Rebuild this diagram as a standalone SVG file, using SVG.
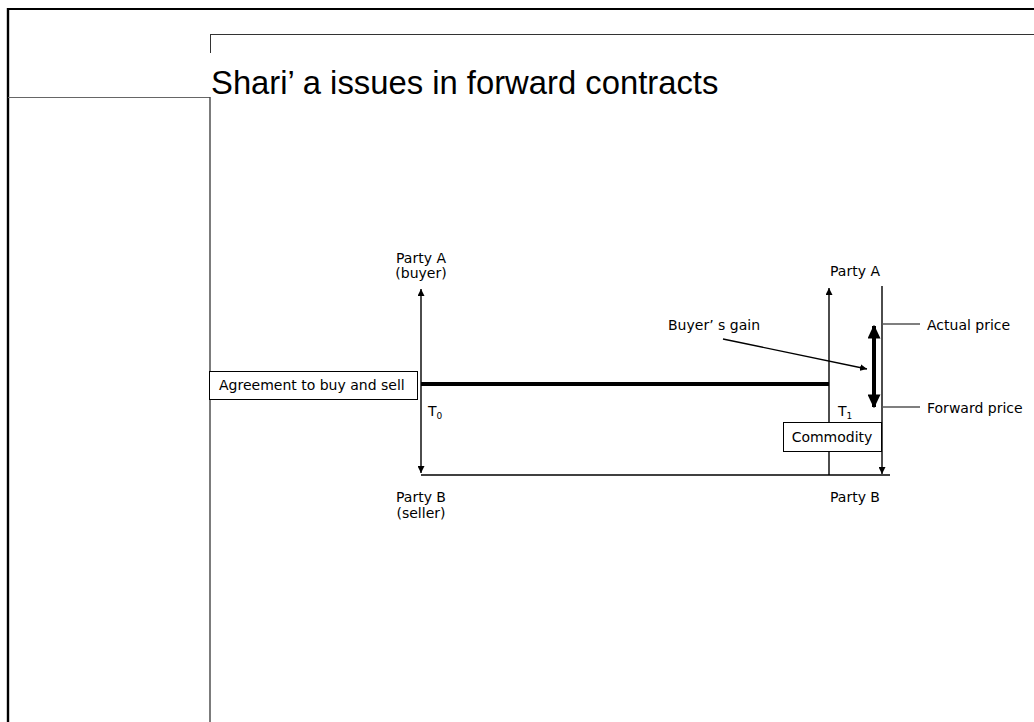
<svg xmlns="http://www.w3.org/2000/svg" width="1034" height="722" viewBox="0 0 1034 722">
  <style>
    .lbl { font-family: "DejaVu Sans", Verdana, sans-serif; font-size: 14px; fill: #000; }
    .mid { text-anchor: middle; }
    .title { font-family: "Liberation Sans", Arial, sans-serif; font-size: 32.8px; fill: #000; }
    .thin { stroke: #000; stroke-width: 1.4; fill: none; }
    .thick { stroke: #000; stroke-width: 4; fill: none; }
    .tick { stroke: #555; stroke-width: 1.3; fill: none; }
    .box { fill: #fff; stroke: #000; stroke-width: 1; }
  </style>
  <defs>
    <marker id="ah" viewBox="0 0 10 10" refX="10" refY="5" markerWidth="7" markerHeight="7" markerUnits="userSpaceOnUse" orient="auto-start-reverse">
      <path d="M0,0 L10,5 L0,10 z" fill="#000"/>
    </marker>
    <marker id="ahBig" viewBox="0 0 10 10" refX="9" refY="5" markerWidth="14" markerHeight="13" markerUnits="userSpaceOnUse" orient="auto-start-reverse" preserveAspectRatio="none">
      <path d="M0,0 L10,5 L0,10 z" fill="#000"/>
    </marker>
  </defs>

  <rect width="1034" height="722" fill="#fff"/>

  <!-- slide frame -->
  <g id="frame">
    <line x1="8" y1="9" x2="1034" y2="9" stroke="#000" stroke-width="2"/>
    <line x1="8" y1="8" x2="8" y2="722" stroke="#000" stroke-width="2.4"/>
    <line x1="8" y1="97.5" x2="210" y2="97.5" stroke="#666" stroke-width="1"/>
    <line x1="210" y1="97" x2="210" y2="722" stroke="#444" stroke-width="1.4"/>
    <line x1="210" y1="34.5" x2="1034" y2="34.5" stroke="#333" stroke-width="1"/>
    <line x1="210.5" y1="34" x2="210.5" y2="53" stroke="#333" stroke-width="1"/>
  </g>

  <g id="title">
    <text class="title" x="211" y="94">Shari’ a issues in forward contracts</text>
  </g>

  <!-- lines and arrows -->
  <g id="connectors">
    <line class="thin" x1="421" y1="289" x2="421" y2="473" marker-start="url(#ah)" marker-end="url(#ah)"/>
    <line class="thin" x1="421" y1="475" x2="890" y2="475"/>
    <line class="thick" x1="421" y1="384" x2="829" y2="384"/>
    <line class="thin" x1="829" y1="475" x2="829" y2="288" marker-end="url(#ah)"/>
    <line class="thin" x1="882" y1="286" x2="882" y2="474" marker-end="url(#ah)"/>
    <line class="tick" x1="882" y1="324" x2="920" y2="324"/>
    <line class="tick" x1="882" y1="407" x2="920" y2="407"/>
    <line class="thick" x1="874" y1="326" x2="874" y2="407" marker-start="url(#ahBig)" marker-end="url(#ahBig)"/>
    <line class="thin" x1="723" y1="339" x2="867" y2="369" marker-end="url(#ah)"/>
  </g>

  <g id="agreement">
    <rect class="box" x="209.5" y="371.5" width="208" height="28"/>
    <text class="lbl" x="219" y="390">Agreement to buy and sell</text>
  </g>

  <g id="commodity">
    <rect class="box" x="783.5" y="422.5" width="98" height="29"/>
    <text class="lbl mid" x="832" y="442">Commodity</text>
  </g>

  <g id="party-a-t0">
    <text class="lbl mid" x="421" y="263">Party A</text>
    <text class="lbl mid" x="421" y="278">(buyer)</text>
  </g>
  <g id="party-b-t0">
    <text class="lbl mid" x="421" y="502">Party B</text>
    <text class="lbl mid" x="421" y="518">(seller)</text>
  </g>
  <g id="t0">
    <text class="lbl" x="428" y="416">T<tspan font-size="9" dy="3">0</tspan></text>
  </g>

  <g id="party-a-t1">
    <text class="lbl mid" x="855" y="276">Party A</text>
  </g>
  <g id="party-b-t1">
    <text class="lbl mid" x="855" y="502">Party B</text>
  </g>
  <g id="t1">
    <text class="lbl" x="838" y="416">T<tspan font-size="9" dy="3">1</tspan></text>
  </g>

  <g id="buyers-gain">
    <text class="lbl" x="668" y="330">Buyer’ s gain</text>
  </g>
  <g id="actual-price">
    <text class="lbl" x="927" y="330">Actual price</text>
  </g>
  <g id="forward-price">
    <text class="lbl" x="927" y="413">Forward price</text>
  </g>
</svg>
